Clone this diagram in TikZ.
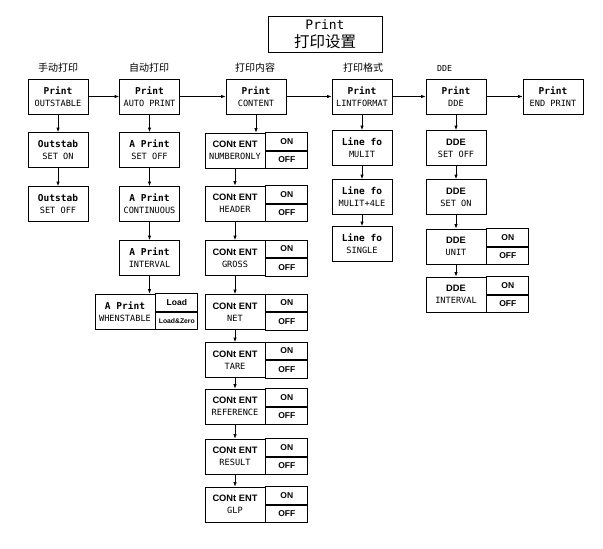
\documentclass[tikz,border=0pt]{standalone}
\usepackage{fontspec}
\setmainfont{Liberation Sans}
\newfontfamily\monof{DejaVu Sans Mono}
\newfontfamily\cjk{Noto Sans CJK SC}
\usetikzlibrary{arrows.meta}
\newcommand\mytop[1]{{\monof\bfseries\fontsize{9.5}{12}\selectfont #1}}
\newcommand\mysans[1]{{\bfseries\fontsize{9.3}{12}\selectfont #1}}
\newcommand\mysub[1]{{\monof\fontsize{8.6}{12}\selectfont #1}}
\begin{document}
\begin{tikzpicture}[x=1pt,y=-1pt,
  box/.style={draw, line width=0.8pt, minimum width=60pt, minimum height=35pt, inner sep=0pt, align=center, font=\fontsize{9}{12}\selectfont},
  opt/.style={draw, line width=0.8pt, minimum width=42pt, minimum height=17.5pt, inner sep=0pt, font=\bfseries\fontsize{8.5}{10}\selectfont},
  arr/.style={line width=0.8pt,-{Latex[length=4.5pt,width=3.5pt]}},
  lab/.style={inner sep=0pt, font=\cjk\fontsize{10}{12}\selectfont}]
\useasboundingbox (0,0) rectangle (603,549);
% title
\node[draw, line width=0.8pt, minimum width=114pt, minimum height=36pt, inner sep=0pt, align=center, font=\fontsize{13}{18}\selectfont] (title) at (325,34) {{\monof Print}\\{\cjk\fontsize{15.5}{18}\selectfont 打印设置}};
% column labels
\node[lab] (l1) at (58,68) {手动打印};
\node[lab] (l2) at (149,68) {自动打印};
\node[lab] (l3) at (255,68) {打印内容};
\node[lab] (l4) at (363,68) {打印格式};
\node[inner sep=0pt, anchor=west, font=\monof\fontsize{8.3}{10}\selectfont] (l5) at (437,68) {DDE};
% top row
\node[box] (p1) at (58,96.5) {\mytop{Print}\\\mysub{OUTSTABLE}};
\node[box] (p2) at (149.5,96.5) {\mytop{Print}\\\mysub{AUTO PRINT}};
\node[box] (p3) at (256,96.5) {\mytop{Print}\\\mysub{CONTENT}};
\node[box] (p4) at (362,96.5) {\mytop{Print}\\\mysub{LINTFORMAT}};
\node[box] (p5) at (456,96.5) {\mytop{Print}\\\mysub{DDE}};
\node[box] (p6) at (553,96.5) {\mytop{Print}\\\mysub{END PRINT}};
\draw[arr] (p1) -- (p2);
\draw[arr] (p2) -- (p3);
\draw[arr] (p3) -- (p4);
\draw[arr] (p4) -- (p5);
\draw[arr] (p5) -- (p6);
% column 1
\node[box] (o1) at (58,150) {\mytop{Outstab}\\\mysub{SET ON}};
\node[box] (o2) at (58,204) {\mytop{Outstab}\\\mysub{SET OFF}};
\draw[arr] (p1) -- (o1);
\draw[arr] (o1) -- (o2);
% column 2
\node[box] (a1) at (149.5,150) {\mytop{A Print}\\\mysub{SET OFF}};
\node[box] (a2) at (149.5,204) {\mytop{A Print}\\\mysub{CONTINUOUS}};
\node[box] (a3) at (149.5,258) {\mytop{A Print}\\\mysub{INTERVAL}};
\node[box] (a4) at (125,311.5) {\mytop{A Print}\\\mysub{WHENSTABLE}};
\node[opt, anchor=south west] (a4on) at (a4.east) {Load};
\node[opt, anchor=north west, font=\bfseries\fontsize{6.8}{8}\selectfont] (a4off) at (a4.east) {Load\&Zero};
\draw[arr] (p2) -- (a1);
\draw[arr] (a1) -- (a2);
\draw[arr] (a2) -- (a3);
\draw[arr] (a3.south) -- (a3.south |- a4.north);
% column 3
\foreach \i/\y/\t in {1/150.5/NUMBERONLY, 2/203.5/HEADER, 3/258/GROSS, 4/312/NET, 5/360/TARE, 6/406.5/REFERENCE, 7/456.5/RESULT, 8/504.5/GLP}{
  \node[box] (c\i) at (235,\y) {\mysans{CONt ENT}\\\mysub{\t}};
  \node[opt, anchor=south west] (con\i) at (c\i.east) {ON};
  \node[opt, anchor=north west] (coff\i) at (c\i.east) {OFF};
}
\draw[arr] (p3.south) -- (p3.south |- c1.north);
\foreach \i/\j in {1/2,2/3,3/4,4/5,5/6,6/7,7/8}{
  \draw[arr] (c\i) -- (c\j);
}
% column 4
\node[box] (f1) at (362,148) {\mytop{Line fo}\\\mysub{MULIT}};
\node[box] (f2) at (362,197) {\mytop{Line fo}\\\mysub{MULIT+4LE}};
\node[box] (f3) at (362,244) {\mytop{Line fo}\\\mysub{SINGLE}};
\draw[arr] (p4) -- (f1);
\draw[arr] (f1) -- (f2);
\draw[arr] (f2) -- (f3);
% column 5
\node[box] (d1) at (456,148) {\mysans{DDE}\\\mysub{SET OFF}};
\node[box] (d2) at (456,197) {\mysans{DDE}\\\mysub{SET ON}};
\node[box] (d3) at (456,246.5) {\mysans{DDE}\\\mysub{UNIT}};
\node[opt, anchor=south west] (d3on) at (d3.east) {ON};
\node[opt, anchor=north west] (d3off) at (d3.east) {OFF};
\node[box] (d4) at (456,294.5) {\mysans{DDE}\\\mysub{INTERVAL}};
\node[opt, anchor=south west] (d4on) at (d4.east) {ON};
\node[opt, anchor=north west] (d4off) at (d4.east) {OFF};
\draw[arr] (p5) -- (d1);
\draw[arr] (d1) -- (d2);
\draw[arr] (d2) -- (d3);
\draw[arr] (d3) -- (d4);
\end{tikzpicture}
\end{document}
